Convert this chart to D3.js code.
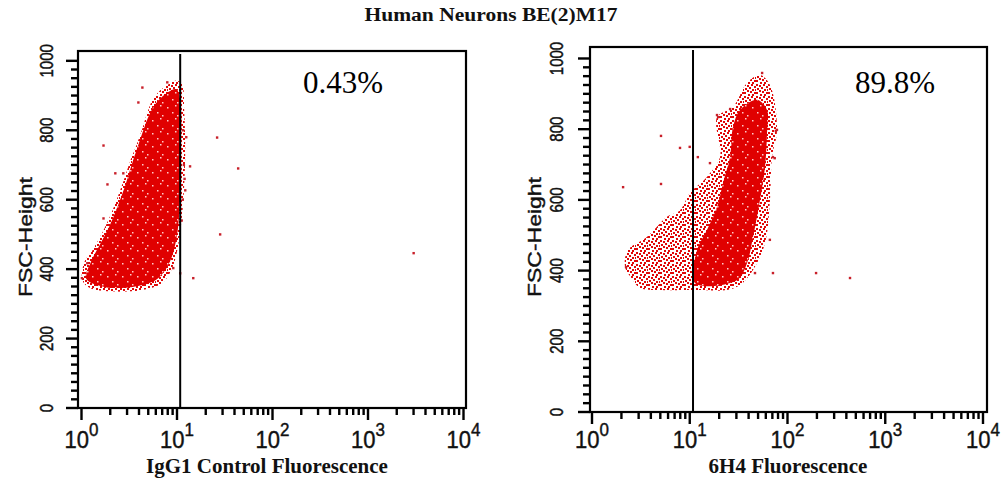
<!DOCTYPE html>
<html><head><meta charset="utf-8">
<script src="https://cdn.jsdelivr.net/npm/d3@7"></script>
<style>html,body{margin:0;padding:0;background:#fff;}svg{display:block}</style>
</head><body>
<svg id="c" width="1002" height="481"></svg>
<script>
// ---------- data ----------
const titleText = "Human Neurons BE(2)M17";
const xAxisLabels = ["IgG1 Control Fluorescence", "6H4 Fluorescence"];
const yAxisLabel = "FSC-Height";
const percentLabels = ["0.43%", "89.8%"];
const xTickExponents = [0, 1, 2, 3, 4];
const yTickValues = [0, 200, 400, 600, 800, 1000];
const gateValues = [10.8, 10.8];

// [fluorescence, FSC-Height]
const leftEnvelope = [[1.02,368],[1.07,420],[1.30,454],[1.66,506],[2.01,555],[2.43,613],[2.81,661],[3.25,713],[3.75,756],[4.34,805],[4.89,851],[5.51,886],[6.68,915],[8.10,932],[9.82,943],[11.3,932],[11.9,857],[12.2,742],[11.9,641],[11.3,555],[10.3,469],[8.92,403],[7.02,360],[4.13,339],[2.01,336],[1.24,345]];
const leftCore = [[1.12,372],[1.25,420],[1.52,465],[1.95,522],[2.38,580],[2.85,638],[3.30,695],[3.80,745],[4.40,797],[5.20,848],[6.30,884],[8.00,909],[9.82,918],[10.8,886],[10.9,713],[10.6,569],[9.80,483],[8.30,418],[6.10,370],[3.66,350],[1.78,348]];
const leftOutliers = [[1.70,756],[1.87,644],[4.34,923],[7.91,938],[3.94,880],[13.7,696],[12.2,627],[9.14,403],[10.8,388],[14.8,374],[26.3,779],[43.7,690],[28.3,500],[3006,446],[1.01,374],[1.15,417],[2.26,676],[2.74,676],[1.70,546],[11.6,800],[12.5,780],[11.8,700],[12.0,660],[11.5,600],[11.2,540]];

const rightEnvelope = [[2.63,373],[2.18,410],[2.33,458],[3.65,495],[5.85,552],[7.95,571],[10.1,620],[15.0,665],[20.4,721],[19.0,834],[27.7,863],[38.5,931],[52.3,953],[66.2,925],[78.1,798],[69.4,721],[66.2,600],[58.9,478],[44.4,402],[32.7,359],[24.0,345],[11.3,345],[4.96,345],[3.10,351]];
const rightCore = [[11.3,365],[30.4,373],[38.5,421],[44.4,495],[52.3,600],[58.9,693],[61.7,789],[61.7,854],[48.8,883],[32.7,854],[27.7,806],[25.8,721],[21.9,648],[19.0,580],[15.0,515],[11.9,458]];
const rightOutliers = [[2.08,636],[5.08,781],[5.08,645],[7.95,747],[9.99,750],[12.1,721],[2.23,410],[46.5,393],[71,393],[196,393],[436,379],[66,487],[74,718],[78,798],[55,959],[19.5,834],[16.1,704],[19.0,840],[25.9,857],[76,795],[71,721]];

// ---------- layout ----------
const panelsLayout = [
  {fx0:78, fx1:466, fy0:51, fy1:408, rx0:81.5, rx1:463.5, ry0:408, ry1:52.5, yLabX:32, yTickX:47, pctX:303, xLabX:267},
  {fx0:590, fx1:987, fy0:47, fy1:412, rx0:592, rx1:983, ry0:412, ry1:50, yLabX:541, yTickX:557, pctX:855, xLabX:788}
];
const envelopes = [leftEnvelope, rightEnvelope];
const cores = [leftCore, rightCore];
const outliers = [leftOutliers, rightOutliers];

const svg = d3.select("#c");
const defs = svg.append("defs");
const speck = defs.append("pattern").attr("id","speck").attr("patternUnits","userSpaceOnUse")
  .attr("width",12).attr("height",12);
[[0,0],[3,1],[7,0],[10,2],[1,4],[5,3],[8,5],[3,6],[0,8],[6,7],[10,8],[4,10],[8,10],[11,5]].forEach(p=>
  speck.append("rect").attr("x",p[0]).attr("y",p[1]).attr("width",2).attr("height",2).attr("fill","#e00808"));
const holes = defs.append("pattern").attr("id","holes").attr("patternUnits","userSpaceOnUse")
  .attr("width",15).attr("height",13);
[[2,3],[10,1],[7,8],[12,11]].forEach(p=>
  holes.append("rect").attr("x",p[0]).attr("y",p[1]).attr("width",1.5).attr("height",1.5).attr("fill","#ffc8c8"));

const sans = "'Liberation Sans', Arial, sans-serif";
const serif = "'Liberation Serif', 'Times New Roman', serif";

svg.append("text").attr("x",491).attr("y",21).attr("text-anchor","middle")
  .attr("font-family",serif).attr("font-weight","bold")
  .attr("font-size",18).attr("textLength",253).attr("lengthAdjust","spacingAndGlyphs")
  .attr("fill","#111").text(titleText);

panelsLayout.forEach((L, i) => {
  const x = d3.scaleLog().domain([1, 1e4]).range([L.rx0, L.rx1]);
  const y = d3.scaleLinear().domain([0, 1024]).range([L.ry0, L.ry1]);
  const g = svg.append("g");
  const clipId = "clip" + i;
  defs.append("clipPath").attr("id", clipId).append("rect")
    .attr("x", L.fx0).attr("y", L.fy0).attr("width", L.fx1 - L.fx0).attr("height", L.fy1 - L.fy0);
  const plot = g.append("g").attr("clip-path", `url(#${clipId})`);
  const shape = d3.line().x(d => x(d[0])).y(d => y(d[1])).curve(d3.curveCatmullRomClosed.alpha(0.5));
  plot.append("path").attr("d", shape(envelopes[i])).attr("fill", "url(#speck)");
  plot.append("path").attr("d", shape(cores[i])).attr("fill", "#e00000");
  plot.append("path").attr("d", shape(cores[i])).attr("fill", "url(#holes)");
  plot.selectAll("rect.o").data(outliers[i]).join("rect").attr("class","o")
    .attr("x", d => x(d[0]) - 1.2).attr("y", d => y(d[1]) - 1.2).attr("width", 2.4).attr("height", 2.4)
    .attr("fill", "#c8202a");

  // gate
  g.append("line").attr("x1", x(gateValues[i])).attr("x2", x(gateValues[i]))
    .attr("y1", L.fy0 + 3).attr("y2", L.fy1).attr("stroke", "#000").attr("stroke-width", 2);

  // frame
  g.append("rect").attr("x", L.fx0).attr("y", L.fy0).attr("width", L.fx1 - L.fx0).attr("height", L.fy1 - L.fy0)
    .attr("fill", "none").attr("stroke", "#000").attr("stroke-width", 2.2);

  // y axis ticks (minor every 25, major every 200)
  const yMinor = d3.range(0, 1001, 25);
  g.selectAll("line.ytick").data(yMinor).join("line").attr("class","ytick")
    .attr("x1", d => L.fx0 - (d % 200 === 0 ? 12 : 7)).attr("x2", L.fx0)
    .attr("y1", d => y(d)).attr("y2", d => y(d))
    .attr("stroke", "#000").attr("stroke-width", 2.4);
  // x axis ticks
  const xTicks = [];
  [0,1,2,3].forEach(e => { for (let k = 1; k <= 9; k++) xTicks.push(k * Math.pow(10, e)); });
  xTicks.push(1e4);
  g.selectAll("line.xtick").data(xTicks).join("line").attr("class","xtick")
    .attr("x1", d => x(d)).attr("x2", d => x(d))
    .attr("y1", L.fy1).attr("y2", d => L.fy1 + (Math.abs(Math.log10(d) % 1) < 1e-9 ? 12 : 7))
    .attr("stroke", "#000").attr("stroke-width", 2.4);

  // y tick labels (rotated)
  yTickValues.forEach(v => {
    g.append("text").attr("transform", `translate(${L.yTickX + 6.4},${y(v)}) rotate(-90) scale(1,1.2)`)
      .attr("text-anchor", "middle").attr("font-family", sans)
      .attr("font-size", 15).attr("fill", "#111").attr("stroke", "#111").attr("stroke-width", 0.4).text(v);
  });
  // y axis label
  g.append("text").attr("transform", `translate(${L.yLabX},${237}) rotate(-90)`)
    .attr("text-anchor", "middle").attr("font-family", sans)
    .attr("font-size", 19).attr("textLength", 120).attr("lengthAdjust", "spacingAndGlyphs")
    .attr("fill", "#111").attr("stroke", "#111").attr("stroke-width", 0.4).text(yAxisLabel);

  // x tick labels 10^e
  xTickExponents.forEach(e => {
    const t = g.append("text").attr("transform", `translate(${x(Math.pow(10, e))},448) scale(1,1.1)`)
      .attr("text-anchor", "middle").attr("font-family", sans)
      .attr("fill", "#111").attr("stroke", "#111").attr("stroke-width", 0.4);
    t.append("tspan").attr("font-size", 22).text("10");
    t.append("tspan").attr("font-size", 17).attr("dy", -11).text(e);
  });

  // x axis label
  g.append("text").attr("x", L.xLabX).attr("y", 473).attr("text-anchor", "middle")
    .attr("font-family", serif).attr("font-weight", "bold")
    .attr("font-size", 21).attr("fill", "#111").text(xAxisLabels[i]);

  // percentage
  g.append("text").attr("x", L.pctX).attr("y", 93)
    .attr("font-family", serif)
    .attr("font-size", 31).attr("fill", "#000").text(percentLabels[i]);
});
</script>
</body></html>
